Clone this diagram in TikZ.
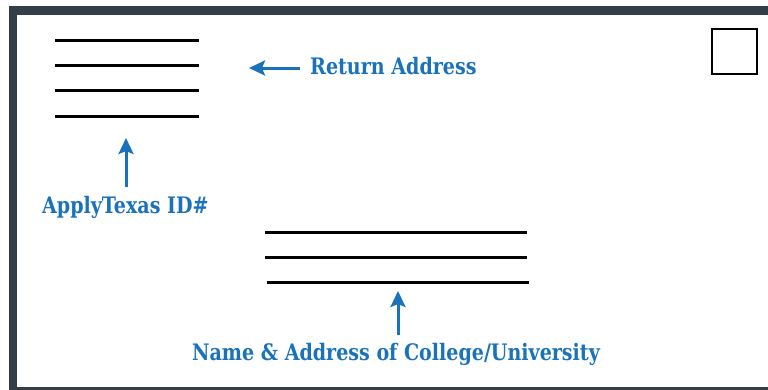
\documentclass[tikz,border=0pt]{standalone}
\usepackage{fontspec}
\usetikzlibrary{arrows.meta}
\newfontfamily\labfont{DejaVu Serif}[FakeStretch=0.84]
\definecolor{frame}{RGB}{52,62,72}
\definecolor{lblue}{RGB}{26,114,186}
\begin{document}
\begin{tikzpicture}[x=1pt,y=-1pt,
  addrline/.style={line width=3pt,black},
  lab/.style={font=\labfont\bfseries\fontsize{22.7}{24}\selectfont,text=lblue,inner sep=0pt,anchor=base west},
  arr/.style={line width=3pt,lblue,-{Stealth[length=16pt,width=15pt,inset=3pt]}}]
\useasboundingbox (0,0) rectangle (768,389);
\begin{scope}
\clip (0,0) rectangle (768,389);
\fill[frame] (9,6) rectangle (800,400);
\fill[white] (17,15) rectangle (800,387);
\end{scope}
% return address lines
\foreach \y/\n in {40/r1,65/r2,90/r3,116/r4}{
  \coordinate (\n a) at (55,\y); \coordinate (\n b) at (199,\y);
  \draw[addrline] (\n a) -- (\n b);}
% recipient lines
\coordinate (s1a) at (265,232); \coordinate (s1b) at (527,232);
\coordinate (s2a) at (265,257); \coordinate (s2b) at (527,257);
\coordinate (s3a) at (267,282); \coordinate (s3b) at (529,282);
\draw[addrline] (s1a) -- (s1b);
\draw[addrline] (s2a) -- (s2b);
\draw[addrline] (s3a) -- (s3b);
% stamp
\node[draw=black,line width=2.8pt,minimum width=45pt,minimum height=45pt,inner sep=0pt] (stamp) at (734.5,51.5) {};
% labels
\node[lab] (ret) at (310,74) {Return Address};
\node[lab] (aid) at (42,213.5) {ApplyTexas ID\#};
\node[lab] (nam) at (192,360) {Name \& Address of College/University};
% arrows
\coordinate (retS) at (300,68); \coordinate (retT) at (249,68);
\coordinate (aidS) at (126,187); \coordinate (aidT) at (126,138);
\coordinate (namS) at (398,335); \coordinate (namT) at (398,291);
\draw[arr] (retS) -- (retT);
\draw[arr] (aidS) -- (aidT);
\draw[arr] (namS) -- (namT);
\end{tikzpicture}
\end{document}
